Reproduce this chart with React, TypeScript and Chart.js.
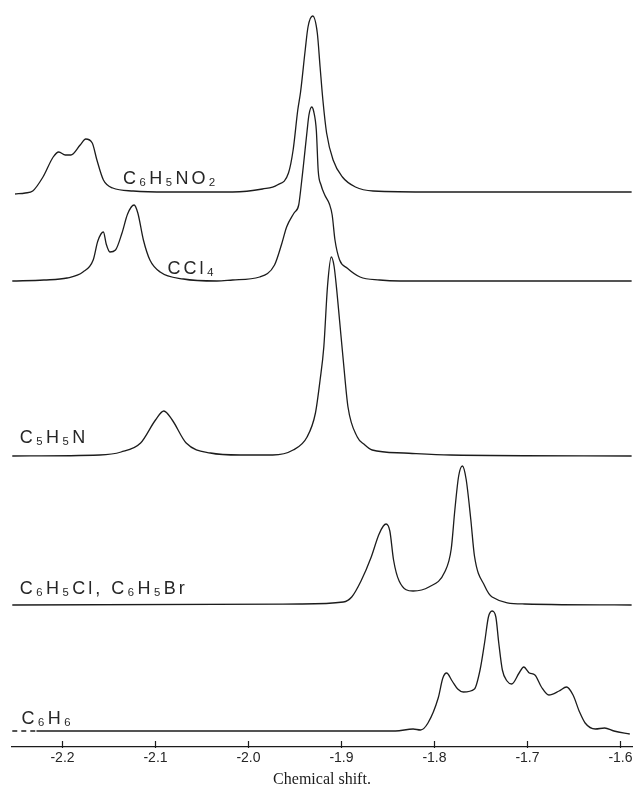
import React, { useEffect, useRef } from "react";
import { Chart, registerables } from "chart.js";

Chart.register(...registerables);

// x axis (chemical shift) tick values
const tickValues = [-2.2, -2.1, -2.0, -1.9, -1.8, -1.7, -1.6];
const xMin = -2.2543;
const xMax = -1.5876;

// C6H5NO2 spectrum
const no2Shift = [-2.251, -2.24, -2.232, -2.221, -2.21, -2.204, -2.197, -2.191, -2.181, -2.175, -2.168, -2.163, -2.156, -2.146, -2.124, -2.088, -2.017, -1.985, -1.969, -1.957, -1.952, -1.947, -1.944, -1.939, -1.936, -1.931, -1.926, -1.923, -1.92, -1.916, -1.909, -1.899, -1.885, -1.866, -1.8, -1.7, -1.588];
const no2Int = [-2, -1, 1, 15, 35, 40, 37, 37, 47, 53, 49, 32, 12, 4, 1, 0, 0, 3, 7, 19, 42, 82, 100, 142, 165, 176, 159, 125, 92, 59, 32, 15, 5, 1, 0, 0, 0];

// CCl4 spectrum
const cclShift = [-2.254, -2.22, -2.195, -2.178, -2.167, -2.162, -2.156, -2.153, -2.149, -2.143, -2.136, -2.13, -2.123, -2.119, -2.113, -2.106, -2.095, -2.07, -2.034, -2.017, -1.988, -1.972, -1.964, -1.959, -1.951, -1.946, -1.944, -1.941, -1.937, -1.935, -1.932, -1.93, -1.927, -1.925, -1.922, -1.918, -1.913, -1.91, -1.907, -1.902, -1.894, -1.88, -1.859, -1.837, -1.588];
const cclInt = [0, 1, 3, 9, 21, 40, 49, 37, 29, 31, 48, 67, 76, 68, 41, 21, 9, 2, 0, 1, 4, 16, 38, 54, 68, 76, 90, 115, 150, 166, 174, 170, 150, 110, 96, 86, 77, 66, 41, 21, 13, 4, 1, 0, 0];

// C5H5N spectrum
const pyrShift = [-2.254, -2.16, -2.137, -2.116, -2.1, -2.091, -2.082, -2.067, -2.041, -2.009, -1.974, -1.952, -1.937, -1.928, -1.923, -1.919, -1.915, -1.911, -1.908, -1.905, -1.902, -1.898, -1.893, -1.883, -1.876, -1.867, -1.833, -1.783, -1.588];
const pyrInt = [0, 1, 4, 13, 36, 45, 36, 13, 3, 1, 1, 6, 19, 43, 76, 109, 170, 199, 190, 165, 135, 95, 49, 19, 12, 6, 3, 1, 0];

// C6H5Cl, C6H5Br spectrum
const halShift = [-2.254, -1.945, -1.898, -1.889, -1.879, -1.868, -1.86, -1.855, -1.852, -1.848, -1.844, -1.838, -1.823, -1.806, -1.789, -1.782, -1.778, -1.774, -1.77, -1.766, -1.761, -1.757, -1.746, -1.738, -1.703, -1.588];
const halInt = [0, 1, 3, 8, 24, 48, 70, 79, 81, 74, 45, 24, 14, 18, 33, 56, 96, 129, 139, 126, 86, 49, 19, 8, 1, 0];

// C6H6 spectrum
const benShift = [-2.254, -2.246, -2.237, -2.228, -1.842, -1.823, -1.815, -1.807, -1.796, -1.791, -1.787, -1.781, -1.775, -1.769, -1.757, -1.751, -1.746, -1.742, -1.738, -1.734, -1.731, -1.727, -1.722, -1.717, -1.709, -1.704, -1.698, -1.692, -1.685, -1.677, -1.666, -1.658, -1.651, -1.644, -1.638, -1.627, -1.617, -1.607, -1.59];
const benInt = [0, 0, 0, 0, 0, 2, 1, 8, 33, 53, 58, 50, 42, 39, 42, 61, 89, 114, 120, 114, 89, 61, 50, 47, 58, 64, 58, 56, 44, 36, 40, 44, 36, 19, 8, 2, 3, 0, -3];

const seriesNames = ["C₆H₅NO₂", "CCl₄", "C₅H₅N", "C₆H₅Cl, C₆H₅Br", "C₆H₆"];
const seriesShifts = [no2Shift, cclShift, pyrShift, halShift, benShift];
const seriesInts = [no2Int, cclInt, pyrInt, halInt, benInt];
const seriesOffsets = [555, 466, 291, 142, 16];
const dashedUpTo = [null, null, null, null, -2.227];

// label anchors (shift, height)
const labelShift = [-2.135, -2.087, -2.246, -2.246, -2.244];
const labelHeight = [563, 473, 304, 153, 23];

const INK = "#1c1c1c";

const labelPlugin = {
  id: "seriesLabels",
  afterDatasetsDraw(chart: any) {
    const { ctx, scales } = chart;
    const x = scales.x;
    const y = scales.y;
    ctx.save();
    ctx.fillStyle = "#262626";
    ctx.font = "18px 'Liberation Sans', 'DejaVu Sans', sans-serif";
    ctx.textBaseline = "alphabetic";
    ctx.textAlign = "left";
    (ctx as any).letterSpacing = "3px";
    seriesNames.forEach((name, i) => {
      ctx.fillText(name, x.getPixelForValue(labelShift[i]), y.getPixelForValue(labelHeight[i]));
    });
    ctx.restore();
  },
};

const tickMarkPlugin = {
  id: "tickMarks",
  afterDraw(chart: any) {
    const { ctx, chartArea } = chart;
    const x = chart.scales.x;
    ctx.save();
    ctx.strokeStyle = INK;
    ctx.lineWidth = 1.2;
    x.ticks.forEach((t: any) => {
      const px = Math.round(x.getPixelForValue(t.value)) + 0.5;
      ctx.beginPath();
      ctx.moveTo(px, chartArea.bottom - 6);
      ctx.lineTo(px, chartArea.bottom + 1);
      ctx.stroke();
    });
    ctx.restore();
  },
};

export default function App() {
  const canvasRef = useRef<HTMLCanvasElement | null>(null);

  useEffect(() => {
    if (!canvasRef.current) return;
    const datasets = seriesNames.map((name, i) => {
      const limit = dashedUpTo[i];
      return {
        label: name,
        data: seriesShifts[i].map((s, k) => ({ x: s, y: seriesOffsets[i] + seriesInts[i][k] })),
        borderColor: INK,
        borderWidth: 1.3,
        pointRadius: 0,
        fill: false,
        tension: 0.4,
        cubicInterpolationMode: "monotone" as const,
        segment: {
          borderDash: (c: any) => (limit !== null && c.p1.parsed.x <= limit ? [5, 4] : undefined),
        },
      };
    });

    const chart = new Chart(canvasRef.current, {
      type: "line",
      data: { datasets },
      options: {
        animation: false,
        responsive: false,
        clip: false,
        layout: { padding: { left: 12, right: 2, top: 0, bottom: 0 } },
        plugins: {
          legend: { display: false },
          tooltip: { enabled: false },
        },
        scales: {
          x: {
            type: "linear",
            min: xMin,
            max: xMax,
            afterBuildTicks: (scale: any) => {
              scale.ticks = tickValues.map((v) => ({ value: v }));
            },
            afterFit: (scale: any) => {
              scale.height = 47;
              scale.paddingLeft = 0;
              scale.paddingRight = 0;
            },
            grid: { display: false, drawTicks: false },
            border: { display: true, color: INK, width: 1.3 },
            ticks: {
              padding: 3,
              color: "#262626",
              font: { family: "'Liberation Sans', 'DejaVu Sans', sans-serif", size: 14 },
              maxRotation: 0,
              autoSkip: false,
              callback: (v: any) => Number(v).toFixed(1),
            },
            title: {
              display: true,
              text: "Chemical shift.",
              color: INK,
              font: { family: "'Liberation Serif', 'DejaVu Serif', serif", size: 16 },
              padding: { top: 0, bottom: 5 },
            },
          },
          y: {
            type: "linear",
            display: false,
            min: 0,
            max: 747,
          },
        },
      },
      plugins: [labelPlugin, tickMarkPlugin],
    });
    return () => chart.destroy();
  }, []);

  return (
    <div style={{ position: "absolute", left: 0, top: 0, width: 634, height: 794, background: "#fff" }}>
      <canvas ref={canvasRef} width={634} height={794} />
    </div>
  );
}
